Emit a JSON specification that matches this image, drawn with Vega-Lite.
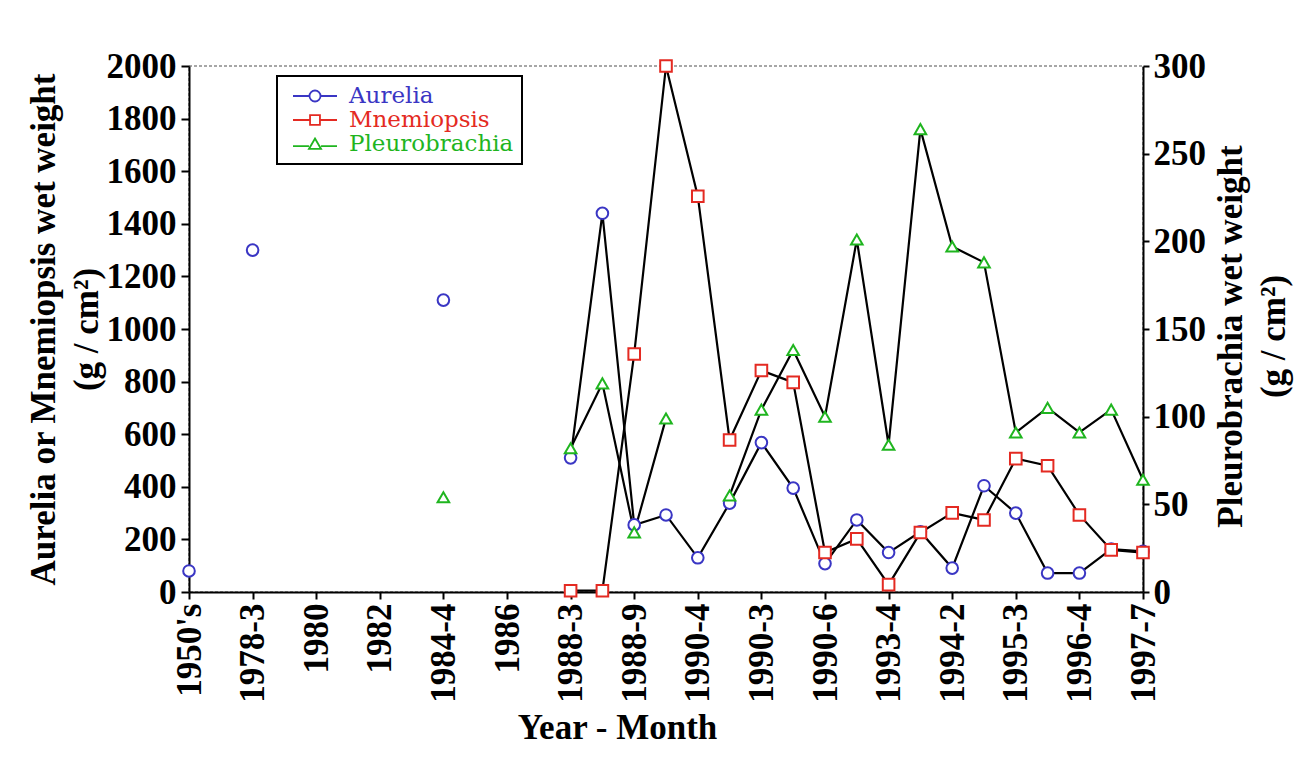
{
  "$schema": "https://vega.github.io/schema/vega-lite/v6.json",
  "width": 954,
  "height": 526,
  "autosize": {"type": "none"},
  "padding": {"left": 189, "top": 66, "right": 166, "bottom": 188},
  "background": "white",
  "config": {
    "view": {"stroke": "#8a8a8a", "strokeDash": [3, 2], "strokeWidth": 1.5},
    "axis": {
      "labelFont": "Liberation Serif", "labelFontWeight": "bold", "labelFontSize": 35, "labelColor": "black",
      "titleFont": "Liberation Serif", "titleFontWeight": "bold", "titleFontSize": 35, "titleColor": "black",
      "domainColor": "black", "domainWidth": 2, "tickColor": "black", "tickWidth": 2, "grid": false
    },
    "legend": {"strokeWidth": 2}
  },
  "datasets": {
    "left": [
      {"idx": 0, "series": "Aurelia", "value": 80},
      {"idx": 2, "series": "Aurelia", "value": 1300},
      {"idx": 8, "series": "Aurelia", "value": 1110},
      {"idx": 12, "series": "Aurelia", "value": 510},
      {"idx": 13, "series": "Aurelia", "value": 1440},
      {"idx": 14, "series": "Aurelia", "value": 255},
      {"idx": 15, "series": "Aurelia", "value": 293},
      {"idx": 16, "series": "Aurelia", "value": 130},
      {"idx": 17, "series": "Aurelia", "value": 338},
      {"idx": 18, "series": "Aurelia", "value": 568},
      {"idx": 19, "series": "Aurelia", "value": 395},
      {"idx": 20, "series": "Aurelia", "value": 108},
      {"idx": 21, "series": "Aurelia", "value": 274},
      {"idx": 22, "series": "Aurelia", "value": 150},
      {"idx": 23, "series": "Aurelia", "value": 229},
      {"idx": 24, "series": "Aurelia", "value": 91},
      {"idx": 25, "series": "Aurelia", "value": 404},
      {"idx": 26, "series": "Aurelia", "value": 300},
      {"idx": 27, "series": "Aurelia", "value": 72},
      {"idx": 28, "series": "Aurelia", "value": 72},
      {"idx": 29, "series": "Aurelia", "value": 163},
      {"idx": 30, "series": "Aurelia", "value": 155},
      {"idx": 12, "series": "Mnemiopsis", "value": 5},
      {"idx": 13, "series": "Mnemiopsis", "value": 5},
      {"idx": 14, "series": "Mnemiopsis", "value": 905},
      {"idx": 15, "series": "Mnemiopsis", "value": 2000},
      {"idx": 16, "series": "Mnemiopsis", "value": 1505},
      {"idx": 17, "series": "Mnemiopsis", "value": 578},
      {"idx": 18, "series": "Mnemiopsis", "value": 842},
      {"idx": 19, "series": "Mnemiopsis", "value": 797},
      {"idx": 20, "series": "Mnemiopsis", "value": 150},
      {"idx": 21, "series": "Mnemiopsis", "value": 202},
      {"idx": 22, "series": "Mnemiopsis", "value": 28},
      {"idx": 23, "series": "Mnemiopsis", "value": 226},
      {"idx": 24, "series": "Mnemiopsis", "value": 301},
      {"idx": 25, "series": "Mnemiopsis", "value": 274},
      {"idx": 26, "series": "Mnemiopsis", "value": 507},
      {"idx": 27, "series": "Mnemiopsis", "value": 480},
      {"idx": 28, "series": "Mnemiopsis", "value": 293},
      {"idx": 29, "series": "Mnemiopsis", "value": 160},
      {"idx": 30, "series": "Mnemiopsis", "value": 150}
    ],
    "right": [
      {"idx": 8, "series": "Pleurobrachia", "value": 54},
      {"idx": 12, "series": "Pleurobrachia", "value": 82},
      {"idx": 13, "series": "Pleurobrachia", "value": 119},
      {"idx": 14, "series": "Pleurobrachia", "value": 34},
      {"idx": 15, "series": "Pleurobrachia", "value": 99},
      {"idx": 16, "series": "Pleurobrachia", "value": null},
      {"idx": 17, "series": "Pleurobrachia", "value": 55},
      {"idx": 18, "series": "Pleurobrachia", "value": 104},
      {"idx": 19, "series": "Pleurobrachia", "value": 138},
      {"idx": 20, "series": "Pleurobrachia", "value": 100},
      {"idx": 21, "series": "Pleurobrachia", "value": 201},
      {"idx": 22, "series": "Pleurobrachia", "value": 84},
      {"idx": 23, "series": "Pleurobrachia", "value": 264},
      {"idx": 24, "series": "Pleurobrachia", "value": 197},
      {"idx": 25, "series": "Pleurobrachia", "value": 188},
      {"idx": 26, "series": "Pleurobrachia", "value": 91},
      {"idx": 27, "series": "Pleurobrachia", "value": 105},
      {"idx": 28, "series": "Pleurobrachia", "value": 91},
      {"idx": 29, "series": "Pleurobrachia", "value": 104},
      {"idx": 30, "series": "Pleurobrachia", "value": 64}
    ]
  },
  "layer": [
    {
      "data": {"name": "left"},
      "transform": [{"filter": "datum.idx >= 12"}],
      "mark": {"type": "line", "color": "black", "strokeWidth": 2.2},
      "encoding": {
        "x": {
          "field": "idx", "type": "quantitative",
          "scale": {"domain": [0, 30], "nice": false, "zero": false},
          "axis": {
            "values": [0,1,2,3,4,5,6,7,8,9,10,11,12,13,14,15,16,17,18,19,20,21,22,23,24,25,26,27,28,29,30],
            "labelExpr": "datum.value % 2 == 0 ? [\"1950's\",\"1978-3\",\"1980\",\"1982\",\"1984-4\",\"1986\",\"1988-3\",\"1988-9\",\"1990-4\",\"1990-3\",\"1990-6\",\"1993-4\",\"1994-2\",\"1995-3\",\"1996-4\",\"1997-7\"][datum.value / 2] : ''",
            "labelAngle": 270, "labelFlush": false, "labelOverlap": false, "labelBound": false,
            "tickSize": 7, "labelPadding": 4,
            "title": "Year - Month", "titleX": 428, "titleY": 118, "titleBaseline": "top", "titleAlign": "center"
          }
        },
        "y": {
          "field": "value", "type": "quantitative",
          "scale": {"domain": [0, 2000], "nice": false},
          "axis": {
            "orient": "left", "format": "d",
            "values": [0,200,400,600,800,1000,1200,1400,1600,1800,2000],
            "tickSize": 8, "labelPadding": 5,
            "title": ["Aurelia or Mnemiopsis wet weight", "(g / cm²)"],
            "titleAngle": 270, "titleX": -163, "titleY": 263, "titleBaseline": "top", "titleAlign": "center", "titleLineHeight": 43
          }
        },
        "detail": {"field": "series"}
      }
    },
    {
      "data": {"name": "right"},
      "transform": [{"filter": "datum.idx >= 12"}],
      "mark": {"type": "line", "color": "black", "strokeWidth": 2.2, "invalid": "break-paths-filter-domains"},
      "encoding": {
        "x": {"field": "idx", "type": "quantitative"},
        "y": {
          "field": "value", "type": "quantitative",
          "scale": {"domain": [0, 300], "nice": false},
          "axis": {
            "orient": "right", "format": "d",
            "values": [0,50,100,150,200,250,300],
            "tickSize": 6, "labelPadding": 4,
            "title": ["Pleurobrachia wet weight", "(g / cm²)"],
            "titleAngle": 270, "titleX": 70, "titleY": 270, "titleBaseline": "top", "titleAlign": "center", "titleLineHeight": 43
          }
        }
      }
    },
    {
      "data": {"name": "left"},
      "mark": {"type": "point", "filled": false, "fill": "white", "size": 135, "strokeWidth": 2, "opacity": 1},
      "encoding": {
        "x": {"field": "idx", "type": "quantitative"},
        "y": {"field": "value", "type": "quantitative", "scale": {"domain": [0, 2000], "nice": false}, "axis": null},
        "color": {
          "field": "series", "type": "nominal",
          "scale": {"domain": ["Aurelia", "Mnemiopsis", "Pleurobrachia"], "range": ["#3a36c4", "#e42a22", "#1fb51f"]},
          "legend": {
            "orient": "none", "legendX": 88, "legendY": 10, "title": null,
            "padding": 8, "strokeColor": "black", "fillColor": "white",
            "symbolSize": 484, "symbolStrokeWidth": 1.8, "symbolFillColor": "white",
            "symbolOffset": 18, "labelOffset": 22, "rowPadding": -1.5, "labelLimit": 0,
            "labelFont": "DejaVu Serif", "labelFontSize": 23, "labelFontWeight": "normal",
            "symbolType": {"expr": "datum.value === 'Aurelia' ? 'M-2,0L-0.5,0M0.5,0L2,0M-0.5,0A0.5,0.5,0,1,1,0.5,0A0.5,0.5,0,1,1,-0.5,0Z' : datum.value === 'Mnemiopsis' ? 'M-2,0L-0.45,0M0.45,0L2,0M-0.45,-0.45L0.45,-0.45L0.45,0.45L-0.45,0.45Z' : 'M-2,0.2L-0.55,0.2M0.55,0.2L2,0.2M0,-0.5L0.55,0.45L-0.55,0.45Z'"},
            "labelColor": {"expr": "datum.value === 'Aurelia' ? '#3a36c4' : datum.value === 'Mnemiopsis' ? '#e42a22' : '#1fb51f'"}
          }
        },
        "shape": {
          "field": "series", "type": "nominal",
          "scale": {"domain": ["Mnemiopsis", "Aurelia", "Pleurobrachia"], "range": ["square", "circle", "triangle-up"]},
          "legend": null
        }
      }
    },
    {
      "data": {"name": "right"},
      "mark": {"type": "point", "filled": false, "fill": "white", "size": 135, "strokeWidth": 2, "opacity": 1},
      "encoding": {
        "x": {"field": "idx", "type": "quantitative"},
        "y": {"field": "value", "type": "quantitative", "scale": {"domain": [0, 300], "nice": false}, "axis": null},
        "color": {"field": "series", "type": "nominal"},
        "shape": {"field": "series", "type": "nominal", "legend": null}
      }
    }
  ],
  "resolve": {"scale": {"y": "independent"}}
}
